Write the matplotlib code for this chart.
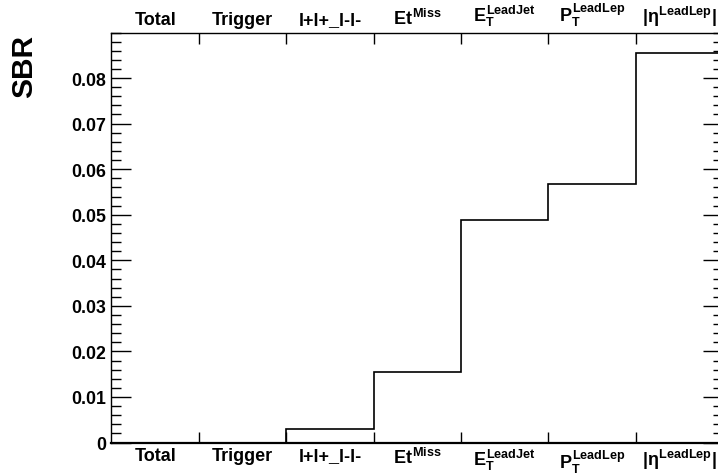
import numpy as np
import matplotlib
matplotlib.use("Agg")
import matplotlib.pyplot as plt

plt.rcParams['font.family'] = ['Liberation Sans', 'DejaVu Sans']
plt.rcParams['font.weight'] = 'bold'
plt.rcParams['mathtext.fontset'] = 'custom'
plt.rcParams['mathtext.rm'] = 'Liberation Sans:bold'
plt.rcParams['mathtext.it'] = 'Liberation Sans:bold'
plt.rcParams['mathtext.bf'] = 'Liberation Sans:bold'

# cut-flow bins and signal/background ratio
cuts = ['Total', 'Trigger', 'l+l+_l-l-', r'$Et^{Miss}$', r'$E_{T}^{LeadJet}$',
        r'$P_{T}^{LeadLep}$', r'$|\eta^{LeadLep}|$']
sbr = [0.0, 0.0, 0.00303, 0.0154, 0.0489, 0.0567, 0.0856]

edges = np.arange(len(cuts) + 1)
centers = edges[:-1] + 0.5

fig = plt.figure(figsize=(7.18, 4.77), dpi=100)
# right frame edge falls just outside the canvas, as in the reference
ax = fig.add_axes([111.5/718, 33.5/477, 611.5/718, 410/477])

ax.stairs(sbr, edges, color='black', lw=1.2, baseline=0)

ax.set_xlim(0, len(cuts))
ax.set_ylim(0, 0.0900)

# bin labels top and bottom, ticks at bin edges
ax.set_xticks(centers)
ax.set_xticklabels(cuts)
ax.set_xticks(edges[1:-1], minor=True)
ax.tick_params(axis='x', which='major', length=0, labelsize=13,
               labeltop=True, labelbottom=True, pad=3.5)
ax.tick_params(axis='x', which='minor', length=8, width=1, direction='in',
               top=True, bottom=True)

yt = np.arange(0, 0.0801, 0.01)
ax.set_yticks(yt)
ax.set_yticklabels(['0' if v == 0 else '%.2f' % v for v in yt])
ax.set_yticks(np.arange(0, 0.0901, 0.002), minor=True)
ax.tick_params(axis='y', which='major', length=14.5, width=1, direction='in',
               left=True, right=True, labelsize=12.8, pad=4)
ax.tick_params(axis='y', which='minor', length=7, width=1, direction='in',
               left=True, right=True)

for s in ax.spines.values():
    s.set_linewidth(1.0)
ax.spines['bottom'].set_linewidth(1.6)

fig.text(24/718, 1 - 35/477, 'SBR', rotation=90, ha='center', va='top',
         fontsize=21.5, fontweight='bold')

fig.savefig('out.png', dpi=100)
